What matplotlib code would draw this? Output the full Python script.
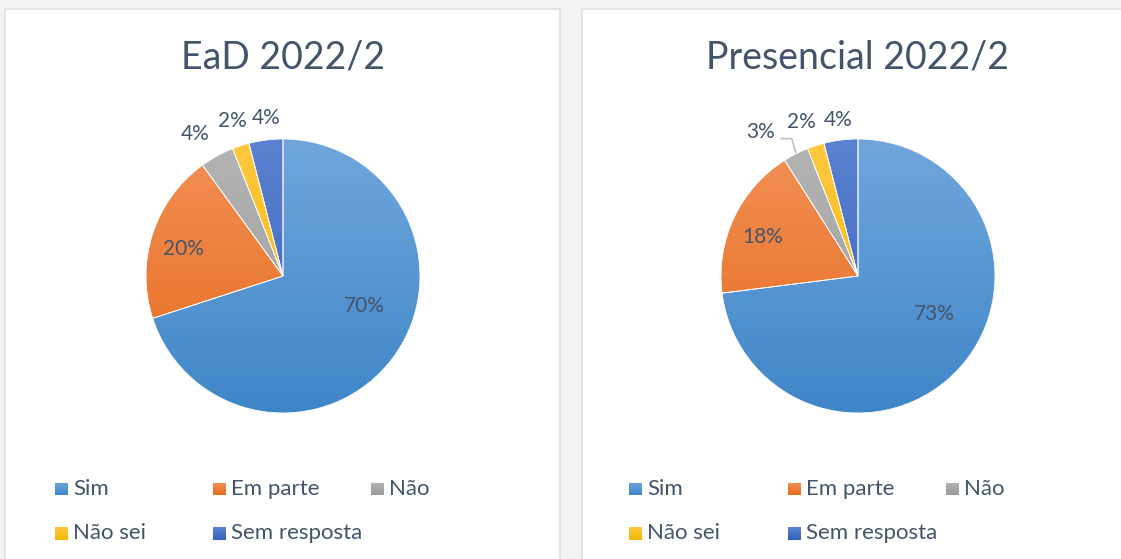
import numpy as np
import matplotlib.pyplot as plt
from matplotlib.patches import Rectangle, Wedge
from matplotlib.colors import LinearSegmentedColormap

plt.rcParams['font.family'] = ['Lato', 'DejaVu Sans']

# data
categories = ['Sim', 'Em parte', 'Não', 'Não sei', 'Sem resposta']
titles = ['EaD 2022/2', 'Presencial 2022/2']
ead_values = [70, 20, 4, 2, 4]
presencial_values = [73, 18, 3, 2, 4]

# gradient (top, bottom) per category, office-like
color_top = ['#70a6dc', '#f29157', '#b4b4b4', '#ffc840', '#5b82d0']
color_bottom = ['#3f86c8', '#e66a1c', '#9a9a9a', '#f2b600', '#3461bd']
text_color = '#44546a'

W, H = 1121, 559
fig = plt.figure(figsize=(W / 100, H / 100), dpi=100)
fig.patch.set_facecolor('#f2f2f2')


def px_box(x, y, w, h):
    # pixel box (top-left origin) -> figure fraction
    return [x / W, 1 - (y + h) / H, w / W, h / H]


# cards
for (x0, x1) in [(5, 560), (582, 1130)]:
    b = px_box(x0, 9, x1 - x0, 560)
    fig.add_artist(Rectangle((b[0], b[1]), b[2], b[3], transform=fig.transFigure,
                             facecolor='white', edgecolor='#dde1e8', lw=1.2, zorder=0))

panels = [
    dict(values=ead_values, cx=283, title=titles[0],
         lab_r=[0.63, 0.75, 1.22, 1.19, 1.16], lab_da=[16, 3, 3, 0, -1],
         leg_x=[55, 213, 371]),
    dict(values=presencial_values, cx=858, title=titles[1],
         lab_r=[0.62, 0.75, 1.27, 1.2, 1.15], lab_da=[15, 3, 7, 2, 0],
         leg_x=[629, 788, 946]),
]

R = 137
cy = 276
span = 1.4
for n, p in enumerate(panels):
    ax = fig.add_axes(px_box(p['cx'] - span * R, cy - span * R, 2 * span * R, 2 * span * R))
    ax.set_xlim(-span, span)
    ax.set_ylim(-span, span)
    ax.axis('off')

    vals = np.array(p['values'], dtype=float)
    fracs = vals / vals.sum()
    start = 90.0
    for i, f in enumerate(fracs):
        t2 = start
        t1 = start - f * 360
        w = Wedge((0, 0), 1, t1, t2, facecolor='none', edgecolor='white', lw=0.6, zorder=3)
        ax.add_patch(w)
        cmap = LinearSegmentedColormap.from_list('g', [color_bottom[i], color_top[i]])
        grad = np.linspace(0, 1, 256).reshape(-1, 1)
        im = ax.imshow(grad, cmap=cmap, extent=(-1, 1, -1, 1), origin='lower',
                       aspect='auto', zorder=2)
        im.set_clip_path(w)

        mid = np.deg2rad((t1 + t2) / 2 + p['lab_da'][i])
        r = p['lab_r'][i]
        lx, ly = r * np.cos(mid), r * np.sin(mid)
        ax.text(lx, ly, f'{int(vals[i])}%', ha='center', va='center',
                fontsize=15, color=text_color, zorder=5)
        # leader line for Presencial "Não"
        if n == 1 and i == 2:
            am = np.deg2rad((t1 + t2) / 2)
            ex, ey = np.cos(am), np.sin(am)
            ax.plot([lx + 0.15, ex - 0.03, ex], [ly - 0.05, ly - 0.05, ey + 0.01],
                    color='#b8c2cf', lw=1.2, zorder=4)
        start = t1

    # title
    fig.text(p['cx'] / W, 1 - 58 / H, p['title'], ha='center', va='center',
             fontsize=27, color=text_color)

    # legend (manual, excel-style equal columns)
    rows_y = [489, 533]
    for i, name in enumerate(categories):
        col = i % 3
        row = i // 3
        sx = p['leg_x'][col]
        sy = rows_y[row]
        cmap = LinearSegmentedColormap.from_list('g', [color_bottom[i], color_top[i]])
        lax = fig.add_axes(px_box(sx, sy - 6.5, 13, 13))
        lax.imshow(np.linspace(0, 1, 32).reshape(-1, 1), cmap=cmap, origin='lower', aspect='auto')
        lax.axis('off')
        fig.text((sx + 18) / W, 1 - sy / H, name, ha='left', va='center',
                 fontsize=16, color=text_color)

fig.savefig('out.png', dpi=100, facecolor=fig.get_facecolor())
